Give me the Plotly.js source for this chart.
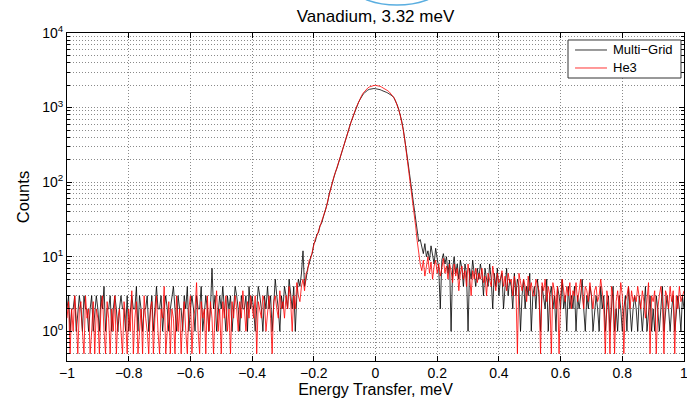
<!DOCTYPE html>
<html>
<head>
<meta charset="utf-8">
<script src="https://cdn.plot.ly/plotly-3.0.1.min.js"></script>
<style>html,body{margin:0;padding:0;background:#fff;}#chart{width:687px;height:398px;}</style>
</head>
<body>
<div id="chart"></div>
<script>
// Energy transfer bins: start -1 meV, width 0.005 meV (401 bins to +1 meV)
const energyStart = -1;
const energyStep = 0.005;

const seriesNames = ["Multi\u2212Grid", "He3"];
const seriesColors = ["#000000", "#ff0000"];
const chartTitle = "Vanadium, 3.32 meV";
const xTitle = "Energy Transfer, meV";
const yTitle = "Counts";
const yTickVals = [1, 10, 100, 1000, 10000];
const yTickText = ["10<sup>0</sup>", "10<sup>1</sup>", "10<sup>2</sup>", "10<sup>3</sup>", "10<sup>4</sup>"];

// Multi-Grid counts
const multiGrid = [
  2,3,1,2,2,3,1,2,3,2,1,3,2,2,1,2,3,1,2,3,
  2,1,3,2,4,1,2,2,3,1,2,3,2,1,2,3,2,2,1,3,
  1,2,3,2,2,4,1,3,2,1,2,2,3,1,2,3,1,2,4,2,
  2,3,1,2,3,2,1,2,3,4,2,1,3,2,2,1,3,2,4,1,
  2,3,2,1,3,2,2,4,1,2,3,2,1,2,7,2,3,1,2,3,
  2,4,2,1,3,2,3,1,2,4,3,2,1,3,2,2,3,1,4,2,
  3,2,1,2,4,3,2,1,3,2,4,2,3,1,2,5,3,2,1,3,
  2,4,3,2,5,3,2,4,1,3,5,4,6,12,
  4,5,7,8,10,11,15,16,20,21,26,28,33,37,47,54,70,84,101,116,
  136,154,179,203,241,281,332,388,458,536,632,723,833,932,1046,1176,1287,1412,1515,1584,
  1661,1717,1757,1779,1797,1801,1790,1781,1758,1739,1700,1679,1641,1603,1567,1531,1479,1429,1349,1230,
  1096,955,813,661,513,380,269,190,132,93,68,48,32,21,16,
  17,13,11,15,10,12,9,14,11,8,13,10,7,2,9,11,8,10,6,9,
  1,7,10,6,8,5,9,7,4,8,6,1,7,5,9,6,4,7,5,8,
  6,3,7,5,4,8,5,2,6,4,7,3,5,6,2,4,7,3,5,4,
  2,6,3,5,4,1,3,5,2,4,3,6,1,3,4,2,5,3,1,4,
  3,2,5,1,3,4,2,3,1,4,3,2,5,2,3,1,4,2,3,2,
  4,1,3,2,3,5,2,1,3,2,4,3,1,2,3,2,1,4,2,3,
  1,2,3,1,2,4,1,2,1,3,2,1,2,3,1,4,2,1,2,3,
  2,1,3,2,1,2,4,1,2,3,1,2,1,3,2,1,2,4,1,2,
  3,2,1,2,3,1,2,3,2,1,3,2
];

// He3 counts
const he3 = [
  1.5,2.5,0.5,2,1,3,1.5,0.5,2,2.5,1,0.5,3,1.5,2,0.5,1,2.5,0.5,2,
  1.5,0.5,2,3,1,0.5,2.5,1.5,0.5,2,1,3,0.5,1.5,2,1,0.5,2.5,1.5,0.5,
  2,1,3.5,0.5,1.5,2.5,0.5,1,2,0.5,3,1.5,1,0.5,2,2.5,0.5,1.5,3,1,
  0.5,2,1.5,4,0.5,1,2.5,0.5,2,1.5,0.5,3,1,2,0.5,1.5,2.5,1,0.5,2,
  3,0.5,1.5,2,4.5,1,0.5,2.5,1.5,2,0.5,3,1,2.5,1.5,0.5,2,3.5,1,2,
  0.5,2.5,1.5,3,1,2,0.5,2.5,1.5,3,2,1,2.5,1.5,3.5,2,1,2.5,1.5,3,
  2,1.5,3,0.5,2.5,2,1.5,3,2.5,1,2,3,1.5,0.5,2.5,3,2,1.5,3.5,2,
  2.5,1.5,3,2,4,2.5,1,3,2,4.5,3,2.5,4,5,
  3.5,6,6.5,9,9.5,12,14,17.5,19,22.5,25,29.5,34,38.5,45,56,68,86,99.5,118,
  134.5,156,177,206,239,283,330,391,456,540,629,728,835,940,1058,1190,1312,1445,1565,1660,
  1755,1830,1890,1935,1962,1978,1982,1975,1955,1928,1880,1838,1785,1730,1680,1615,1520,1450,1355,1225,
  1085,940,795,645,496,365,255,178,121,84,58,40,26,16.5,11,
  8,6.5,9,5.5,7,10,6,8.5,5,7.5,9,6,8,5.5,7,9.5,6,7.5,5,8,
  6.5,4.5,8,5.5,7,3.5,6,7.5,5,6.5,4,8,5.5,3,6.5,5,7,4.5,6,5,
  7,4.5,5.5,3,6,5,4,7.5,5.5,3.5,6,4.5,5,6.5,4,5.5,3.5,6,4.5,5,
  3,5.5,4,0.5,6,4.5,3.5,5,4,2.5,5.5,3.5,4.5,3,3,5,4,3.5,0.5,4.5,
  3.5,5,2.5,4,3,0.5,4.5,3.5,2,4,0.5,3,5,3.5,2.5,4,3,4.5,2,3.5,
  3,4.5,2.5,3.5,5,3,2,4,3.5,2.5,4.5,3,2,3.5,4,2.5,3,5,3.5,2,
  0.5,3.5,2.5,0.5,4,3,0.5,2.5,3.5,2,4.5,3,0.5,2.5,3,4,2,3.5,2.5,3,
  2.5,4,3,2,3.5,2.5,1.5,3,4.5,0.5,3,2.5,3.5,0.5,2,3,4,2.5,0.5,3.5,
  3,2,4,2.5,3.5,0.5,3,2,4,2.5,3,3.5
];

const gridColor = "#8a8a8a";
const gridDash = "1px,2px";

const traces = [
  {
    type: "scatter", mode: "lines", name: seriesNames[0],
    x0: energyStart, dx: energyStep, y: multiGrid,
    line: {color: seriesColors[0], width: 0.8}
  },
  {
    type: "scatter", mode: "lines", name: seriesNames[1],
    x0: energyStart, dx: energyStep, y: he3,
    line: {color: seriesColors[1], width: 0.8}
  }
];

// MATLAB-style legend box (paper coordinates of the plot area)
const legendBox = {x0: 0.812, x1: 0.9951, y0: 0.8628, y1: 0.9787};
const legendRows = [0.9482, 0.8933];
const legendLineX = [0.8234, 0.8752];
const legendTextX = 0.8833;

const shapes = [
  {type: "rect", xref: "paper", yref: "paper",
   x0: legendBox.x0, x1: legendBox.x1, y0: legendBox.y0, y1: legendBox.y1,
   line: {color: "#333", width: 1}, fillcolor: "#ffffff", layer: "above"},
  {type: "circle", xref: "paper", yref: "paper",
   x0: 0.47, x1: 0.5997, y0: 1.0854, y1: 1.177,
   line: {color: "#5aaee0", width: 1.5}, layer: "above"}
];
const annotations = [];
seriesNames.forEach(function (name, k) {
  shapes.push({type: "line", xref: "paper", yref: "paper",
    x0: legendLineX[0], x1: legendLineX[1], y0: legendRows[k], y1: legendRows[k],
    line: {color: seriesColors[k], width: 0.8}, layer: "above"});
  annotations.push({xref: "paper", yref: "paper", x: legendTextX, y: legendRows[k],
    xanchor: "left", yanchor: "middle", showarrow: false, text: name,
    borderpad: 0, font: {size: 13, color: "#000"}});
});

const layout = {
  width: 687, height: 398,
  margin: {l: 67, r: 3, t: 33, b: 37, pad: 0},
  paper_bgcolor: "#ffffff", plot_bgcolor: "#ffffff",
  font: {family: "Liberation Sans, Arial, sans-serif", size: 14, color: "#000"},
  showlegend: false,
  title: {
    text: chartTitle, font: {size: 17, color: "#000"},
    xref: "paper", x: 0.5, xanchor: "center",
    yref: "container", y: 0.96, yanchor: "middle"
  },
  xaxis: {
    range: [-1, 1], dtick: 0.2, tick0: 0,
    showgrid: true, gridcolor: gridColor, griddash: gridDash, gridwidth: 1,
    zeroline: false,
    showline: true, linecolor: "#000", linewidth: 1, mirror: "ticks",
    ticks: "inside", ticklen: 5, tickcolor: "#000",
    tickfont: {size: 14}, ticklabeloverflow: "allow", ticklabelstandoff: -1,
    title: {text: xTitle, font: {size: 16}, standoff: 10}
  },
  yaxis: {
    type: "log", range: [-0.398, 4],
    tickmode: "array", tickvals: yTickVals, ticktext: yTickText,
    showgrid: true, gridcolor: gridColor, griddash: gridDash, gridwidth: 1,
    zeroline: false,
    showline: true, linecolor: "#000", linewidth: 1, mirror: "ticks",
    ticks: "inside", ticklen: 5, tickcolor: "#000",
    tickfont: {size: 14},
    minor: {dtick: "D1", showgrid: true, gridcolor: gridColor, griddash: gridDash, gridwidth: 1,
            ticks: "inside", ticklen: 3, tickcolor: "#000"},
    title: {text: yTitle, font: {size: 16.5}, standoff: 8}
  },
  shapes: shapes,
  annotations: annotations
};

Plotly.newPlot("chart", traces, layout, {displayModeBar: false, staticPlot: true});
</script>
</body>
</html>
